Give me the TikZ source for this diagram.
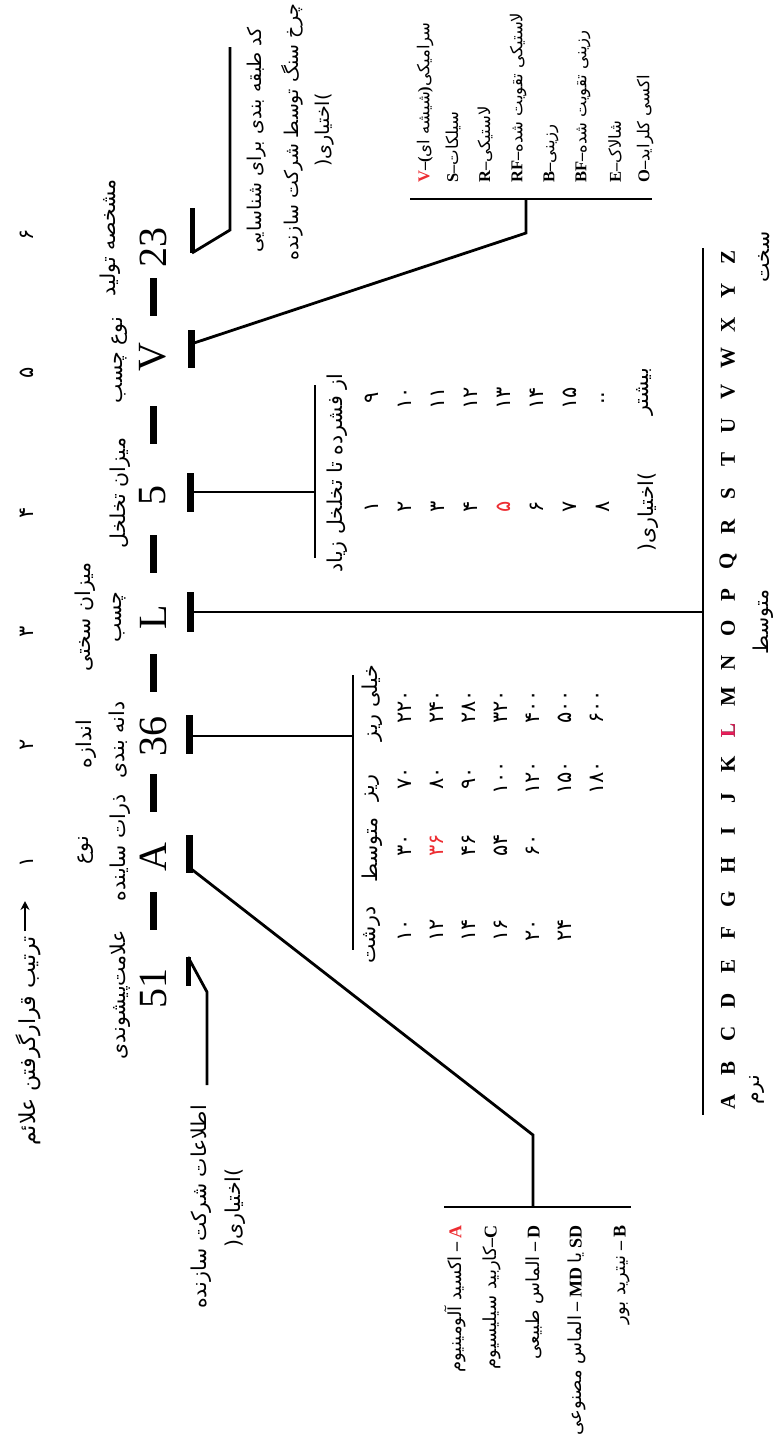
\documentclass[tikz,border=0pt]{standalone}
\usepackage{fontspec}
\setmainfont{Liberation Serif}
\newfontfamily\fafont[Script=Arabic]{DejaVu Sans}
\TeXXeTstate=1
\usetikzlibrary{arrows.meta}
\definecolor{markred}{RGB}{237,45,50}
\definecolor{markpink}{RGB}{232,30,90}
\newcommand{\fa}[1]{{\fafont\mdseries\beginR #1\endR}}
\tikzset{
  fatext/.style={font=\fafont\fontsize{20.5}{24}\selectfont, rotate=90, inner sep=0pt},
  notetext/.style={font=\fafont\fontsize{19}{22}\selectfont, rotate=90, inner sep=0pt},
  numtext/.style={font=\fafont\fontsize{21}{24}\selectfont, rotate=90, inner sep=0pt},
  symtext/.style={font=\fontsize{40}{40}\selectfont, rotate=90, inner sep=0pt},
  codetext/.style={font=\bfseries\fontsize{18}{20}\selectfont, rotate=90, inner sep=0pt},
  bondtext/.style={font=\bfseries\fontsize{16.5}{20}\selectfont, rotate=90, inner sep=0pt},
  lettertext/.style={font=\bfseries\fontsize{21}{24}\selectfont, rotate=90, inner sep=0pt},
  link/.style={draw=black, line width=2.8pt},
  capbar/.style={draw=black, line width=7pt},
  hookbar/.style={draw=black, line width=5pt},
  orderarrow/.style={draw=black, line width=2pt, -{Stealth[length=9pt,width=9pt]}}
}

\begin{document}
\begin{tikzpicture}[x=1pt,y=-1pt]
  \useasboundingbox (0,0) rectangle (775,1444);

  % Order of the marks.
  \node[fatext,font=\fafont\fontsize{22}{26}\selectfont,anchor=east] (order) at (28,936) {\fa{ترتیب قرارگرفتن علائم}};
  \coordinate (arrowtail) at (25,931);
  \coordinate (arrowtip) at (25,901);
  \draw[orderarrow] (arrowtail) -- (arrowtip);
  \foreach \n/\y [count=\i] in {۱/862,۲/745,۳/632,۴/513,۵/373,۶/235} {
    \node[numtext] (ord\i) at (27,\y) {\n};
  }

  % Headings of the marks.
  \node[fatext] (hPre) at (120,995) {\fa{علامت^^^^200cپیشوندی}};
  \node[fatext] (hAbrA) at (86,850) {\fa{نوع}};
  \node[fatext] (hAbrB) at (120,848) {\fa{ذرات ساینده}};
  \node[fatext] (hGritA) at (86,744) {\fa{اندازه}};
  \node[fatext] (hGritB) at (118,740) {\fa{دانه بندی}};
  \node[fatext] (hGradeA) at (85,617) {\fa{میزان سختی}};
  \node[fatext] (hGradeB) at (120,617) {\fa{چسب}};
  \node[fatext] (hStruct) at (120,493) {\fa{میزان تخلخل}};
  \node[fatext] (hBond) at (120,360) {\fa{نوع چسب}};
  \node[fatext] (hMaker) at (110,238) {\fa{مشخصه تولید}};

  % The marking itself.
  \node[symtext] (s51) at (153,988) {51};
  \node[symtext] (sA) at (153,857) {A};
  \node[symtext] (s36) at (153,736) {36};
  \node[symtext] (sL) at (153,617) {L};
  \node[symtext] (s5) at (153,495) {5};
  \node[symtext] (sV) at (153,357) {V};
  \node[symtext] (s23) at (153,247) {23};
  \foreach \y in {911,793,673,554,425,297} {
    \draw[capbar] (153,\y-19) -- (153,\y+19);
  }

  % Caps under the marks.
  \draw[capbar] (189,835) -- (189,873);
  \draw[capbar] (189,715) -- (189,754);
  \draw[capbar] (190,592) -- (190,632);
  \draw[capbar] (190,473) -- (190,512);
  \draw[capbar] (191,330) -- (191,368);
  \draw[hookbar] (188,957) -- (188,986);
  \draw[hookbar] (192,208) -- (192,253);

  % Leaders to the tables.
  \coordinate (capA) at (190,868);
  \coordinate (kneeA) at (533,1135);
  \coordinate (footA) at (533,1207);
  \draw[link] (capA) -- (kneeA) -- (footA);
  \draw[link] (444,1207) -- (631,1207);
  \coordinate (cap36) at (192,736);
  \coordinate (foot36) at (353,736);
  \draw[link] (cap36) -- (foot36);
  \draw[link] (353,675) -- (353,950);
  \coordinate (capL) at (193,612);
  \coordinate (footL) at (703,612);
  \draw[link] (capL) -- (footL);
  \draw[link] (703,248) -- (703,1115);
  \coordinate (cap5) at (193,492);
  \coordinate (foot5) at (315,492);
  \draw[link] (cap5) -- (foot5);
  \draw[link] (315,385) -- (315,558);
  \coordinate (capV) at (194,343);
  \coordinate (kneeV) at (526,233);
  \coordinate (footV) at (526,199);
  \draw[link] (capV) -- (kneeV) -- (footV);
  \draw[link] (410,199) -- (652,199);
  \draw[link] (188,957) -- (207,992) -- (207,1085);
  \draw[link] (192,253) -- (230,230) -- (230,47);

  % Optional company texts.
  \node[fatext] (makerA) at (201,1207) {\fa{اطلاعات شرکت سازنده}};
  \node[fatext] (makerB) at (235,1208) {(\fa{اختیاری})};
  \node[notetext] (codeA) at (257,140) {\fa{کد طبقه بندی برای شناسایی}};
  \node[notetext] (codeB) at (292,132) {\fa{چرخ سنگ توسط شرکت سازنده}};
  \node[notetext] (codeC) at (325,130) {(\fa{اختیاری})};

  % Abrasive types.
  \node[codetext,anchor=east] (abrA) at (455,1225) {\fa{اکسید آلومینیوم} – \textcolor{markred}{A}};
  \node[codetext,anchor=east] (abrC) at (492,1225) {\fa{کاربید سیلیسیوم}–C};
  \node[codetext,anchor=east] (abrD) at (535,1225) {\fa{الماس طبیعی} – D};
  \node[codetext,anchor=east] (abrSD) at (577,1225) {\fa{الماس مصنوعی} – MD \fa{یا} SD};
  \node[codetext,anchor=east] (abrB) at (622,1225) {\fa{نیترید بور} – B};

  % Grit sizes.
  \node[fatext] (gVF) at (372,703) {\fa{خیلی ریز}};
  \node[fatext] (gF) at (372,788) {\fa{ریز}};
  \node[fatext] (gM) at (372,850) {\fa{متوسط}};
  \node[fatext] (gC) at (372,935) {\fa{درشت}};
  \foreach \v [count=\i] in {۲۲۰,۲۴۰,۲۸۰,۳۲۰,۴۰۰,۵۰۰,۶۰۰} {
    \node[numtext] (gVF\i) at (373+32*\i,707) {\v};
  }
  \foreach \v [count=\i] in {۷۰,۸۰,۹۰,۱۰۰,۱۲۰,۱۵۰,۱۸۰} {
    \node[numtext] (gF\i) at (373+32*\i,778) {\v};
  }
  \foreach \v/\c [count=\i] in {۳۰/black,۳۶/markred,۴۶/black,۵۴/black,۶۰/black} {
    \node[numtext,text=\c] (gM\i) at (373+32*\i,845) {\v};
  }
  \foreach \v [count=\i] in {۱۰,۱۲,۱۴,۱۶,۲۰,۲۴} {
    \node[numtext] (gC\i) at (373+32*\i,930) {\v};
  }

  % Structure numbers.
  \node[fatext] (stHead) at (337,473) {\fa{از فشرده تا تخلخل زیاد}};
  \foreach \v/\c [count=\i] in {۱/black,۲/black,۳/black,۴/black,۵/markred,۶/black,۷/black,۸/black} {
    \node[numtext,text=\c] (stA\i) at (339+33*\i,507) {\v};
  }
  \foreach \v [count=\i] in {۹,۱۰,۱۱,۱۲,۱۳,۱۴,۱۵,..} {
    \node[numtext] (stB\i) at (339+33*\i,398) {\v};
  }
  \node[fatext] (stOpt) at (648,512) {(\fa{اختیاری})};
  \node[fatext] (stMore) at (645,392) {\fa{بیشتر}};

  % Bond types.
  \node[bondtext,anchor=west] (bondV) at (425,183) {\textcolor{markred}{V}–(\fa{شیشه ای})\fa{سرامیکی}};
  \node[bondtext,anchor=west] (bondS) at (453,183) {S–\fa{سیلکات}};
  \node[bondtext,anchor=west] (bondR) at (485,183) {R–\fa{لاستیکی}};
  \node[bondtext,anchor=west] (bondRF) at (518,183) {RF–\fa{لاستیکی تقویت شده}};
  \node[bondtext,anchor=west] (bondB) at (551,183) {B–\fa{رزینی}};
  \node[bondtext,anchor=west] (bondBF) at (583,183) {BF–\fa{رزینی تقویت شده}};
  \node[bondtext,anchor=west] (bondE) at (615,183) {E–\fa{شالاک}};
  \node[bondtext,anchor=west] (bondO) at (645,183) {O–\fa{اکسی کلراید}};

  % Grade letters from soft to hard.
  \foreach \c [count=\i from 0] in {A,B,C,D,E,F,G,H,I,J,K,L,M,N,O,P,Q,R,S,T,U,V,W,X,Y,Z} {
    \node[lettertext] (g\c) at (728,1102-33.8*\i) {\c};
  }
  \node[lettertext,text=markpink] at (gL) {L};
  \node[fatext] (soft) at (757,1090) {\fa{نرم}};
  \node[fatext] (medium) at (763,622) {\fa{متوسط}};
  \node[fatext] (hard) at (764,257) {\fa{سخت}};
\end{tikzpicture}
\end{document}
